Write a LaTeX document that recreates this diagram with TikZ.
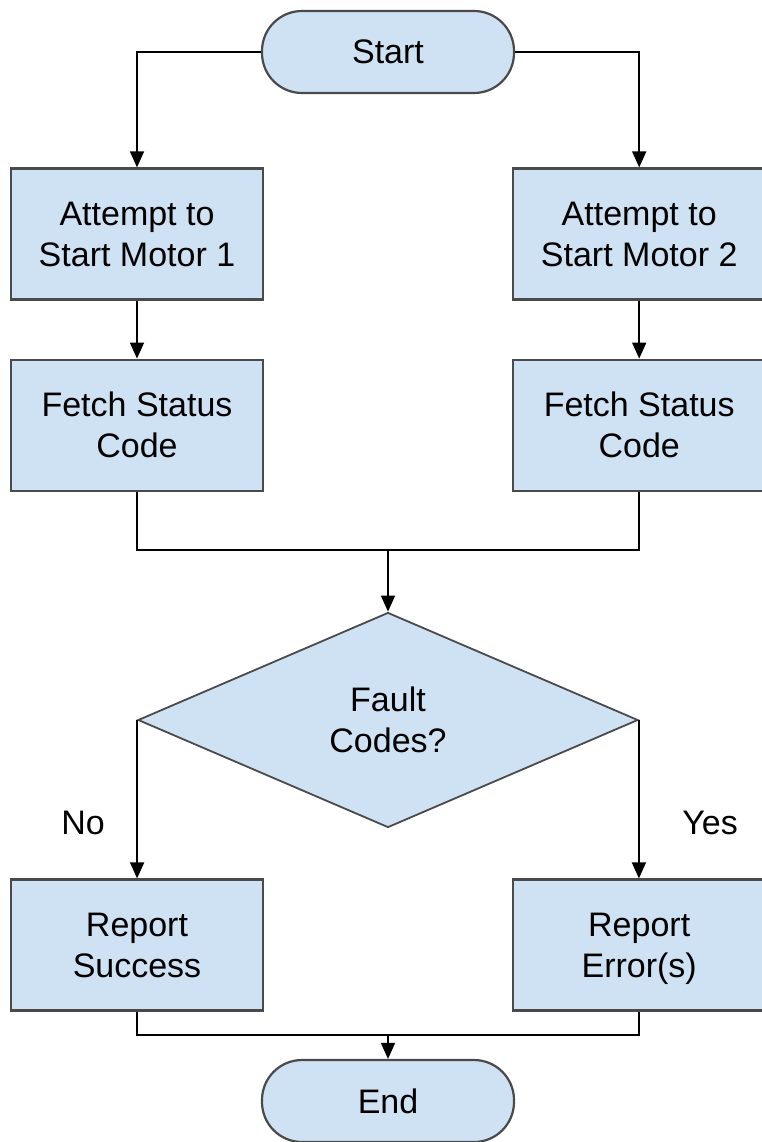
\documentclass[tikz,border=0pt]{standalone}
\usepackage{fontspec}
\setmainfont{Liberation Sans}
\usepackage{xcolor}
\usepackage{tikz}
\usetikzlibrary{shapes.geometric,positioning,arrows.meta}

\definecolor{boxfill}{HTML}{CFE2F3}
\definecolor{boxline}{HTML}{4A4A4A}

\begin{document}
\begin{tikzpicture}[x=1pt, y=1pt, node distance=60pt,
    font=\fontsize{34}{41}\selectfont,
    process/.style={draw=boxline, fill=boxfill, line width=2.2pt, align=center,
        minimum width=252pt, minimum height=131pt, inner sep=0pt},
    terminal/.style={process, rounded corners=40pt, minimum height=82pt},
    decision/.style={diamond, draw=boxline, fill=boxfill, line width=1.8pt, align=center,
        minimum width=500pt, minimum height=215pt, inner sep=0pt},
    link/.style={line width=1.6pt, black},
    arrow/.style={link, -{Triangle[length=16pt, width=14pt]}}]
        \useasboundingbox (0,0) rectangle (762,-1142);

        \node[terminal] (S) at (388,-52) {Start};
        \node[process] (M1) at (137,-234) {Attempt to\\Start Motor 1};
        \node[process] (M2) [right = 248pt of M1] {Attempt to\\Start Motor 2};
        \node[process] (F1) [below = 58pt of M1] {Fetch Status\\Code};
        \node[process] (F2) [below = 58pt of M2] {Fetch Status\\Code};
        \coordinate (J1) at (388,-550);
        \node[decision] (D) at (388,-720) {Fault\\Codes?};
        \node[process] (RS) at (137,-945) {Report\\Success};
        \node[process] (RE) [right = 248pt of RS] {Report\\\smash{Error(s)}};
        \coordinate (J2) at (388,-1035);
        \node[terminal] (E) at (388,-1101) {End};

        \node (no) at (83,-823) {No};
        \node (yes) at (710,-823) {Yes};

        \draw[arrow] (S.west) -| (M1.north);
        \draw[arrow] (S.east) -| (M2.north);
        \draw[arrow] (M1) -- (F1);
        \draw[arrow] (M2) -- (F2);
        \draw[link] (F1.south) |- (J1) -| (F2.south);
        \draw[arrow] (J1) -- (D.north);
        \draw[arrow] (D.west) -- (D.west |- RS.north);
        \draw[arrow] (D.east) -- (D.east |- RE.north);
        \draw[link] (RS.south) |- (J2) -| (RE.south);
        \draw[arrow] (J2) -- (E.north);
    \end{tikzpicture}
\end{document}
